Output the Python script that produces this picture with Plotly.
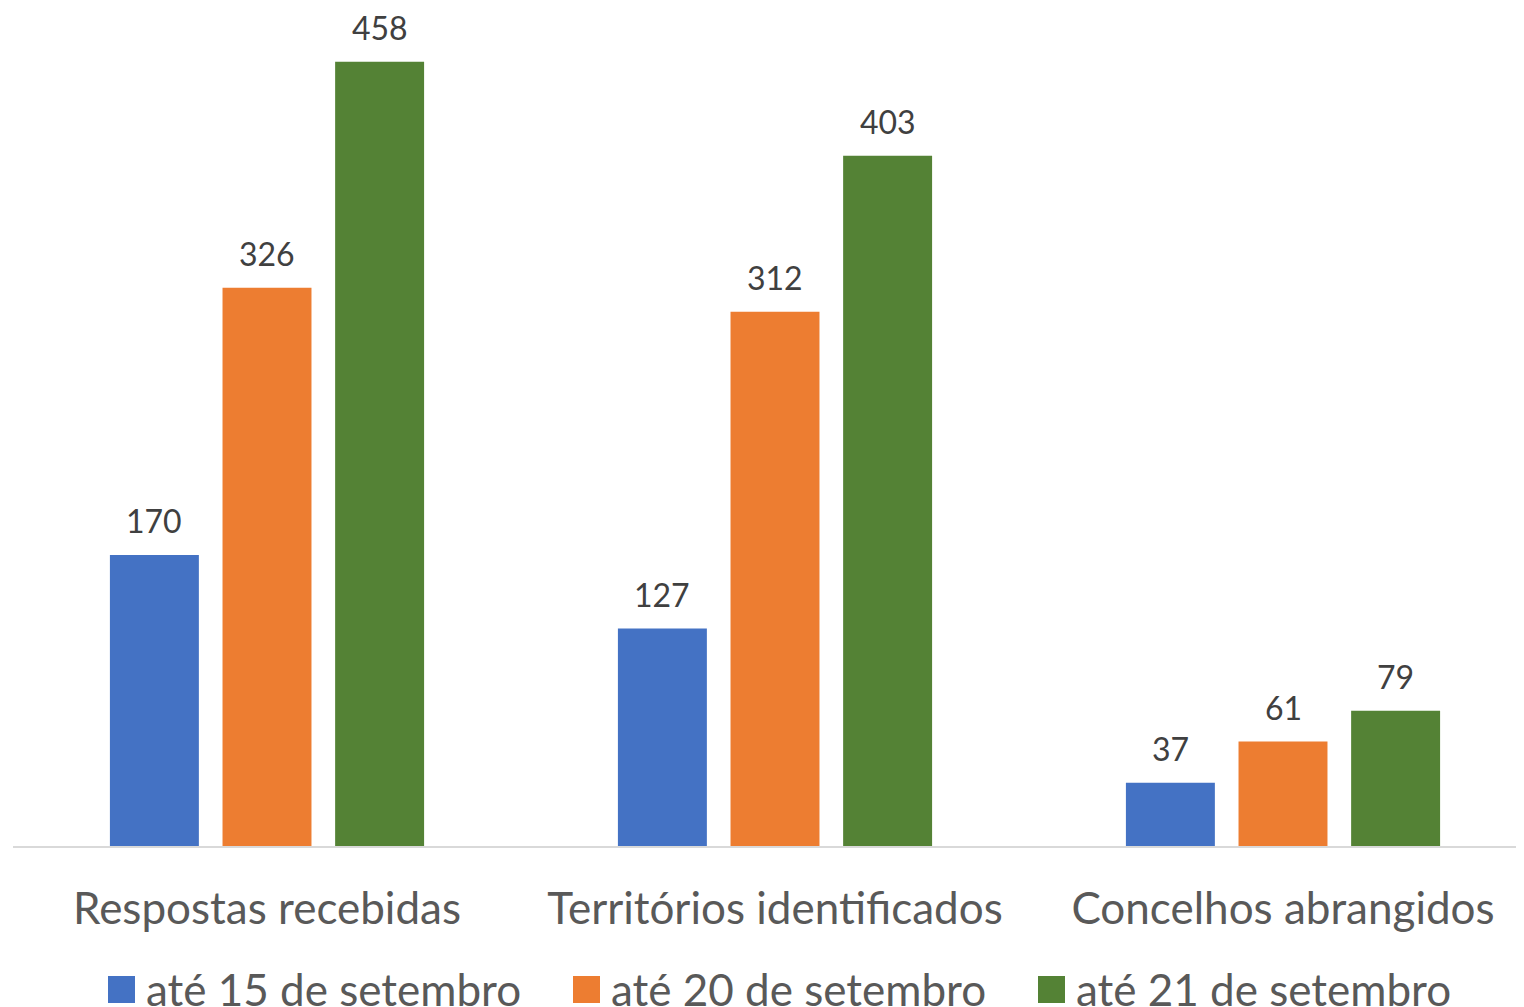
import plotly.graph_objects as go

categories = ["Respostas recebidas", "Territórios identificados", "Concelhos abrangidos"]
series_names = ["até 15 de setembro", "até 20 de setembro", "até 21 de setembro"]
values_15 = [170, 127, 37]
values_20 = [326, 312, 61]
values_21 = [458, 403, 79]
colors = ["#4472C4", "#ED7D31", "#548235"]

W, H = 1524, 1007
OFF = 8  # page body margin
L, R, T = 13 - OFF, 0, 20 - OFF
B = H - (846 - OFF)
FONT = "Lato"
BARGAP, GROUPGAP = 0.335, 0.21

plot_w = W - L - R
plot_h = H - T - B
cat_px = 508
x_range = [-0.5, -0.5 + plot_w / cat_px]
slot_px = cat_px * (1 - BARGAP) / len(series_names)

fig = go.Figure()
all_vals = [values_15, values_20, values_21]
for i, (name, vals, col) in enumerate(zip(series_names, all_vals, colors)):
    fig.add_trace(go.Bar(
        x=categories, y=vals, name=name,
        marker=dict(color=col, line=dict(width=0)),
        showlegend=False,
    ))
    # data labels, lifted above the bar tops like the original
    for c, v in zip(categories, vals):
        fig.add_annotation(x=c, y=v, xref="x", yref="y", text=str(v), showarrow=False,
                           xanchor="center", yanchor="bottom",
                           xshift=(i - 1) * slot_px, yshift=13,
                           font=dict(family=FONT, size=32, color="#404040"))

# custom legend (large squares like the original)
def px_x(px):
    return (px - OFF - L) / plot_w
def px_y(py):
    return (H - B - (py - OFF)) / plot_h

legend_x = [108, 573, 1038]
sq = 27
for lx, name, col in zip(legend_x, series_names, colors):
    fig.add_shape(type="rect", xref="paper", yref="paper",
                  x0=px_x(lx), x1=px_x(lx + sq), y0=px_y(1003), y1=px_y(1003 - sq),
                  fillcolor=col, line=dict(width=0))
    fig.add_annotation(xref="paper", yref="paper", x=px_x(lx + 36), y=px_y(989),
                       xanchor="left", yanchor="middle", text=name, showarrow=False,
                       font=dict(family=FONT, size=44, color="#595959"))

fig.update_layout(
    width=W, height=H,
    margin=dict(l=L, r=R, t=T, b=B, pad=0),
    barmode="group", bargap=BARGAP, bargroupgap=GROUPGAP,
    plot_bgcolor="white", paper_bgcolor="white",
    font=dict(family=FONT, color="#595959"),
)
fig.update_xaxes(range=x_range, showline=True, linecolor="#D9D9D9",
                 linewidth=2, ticks="", showgrid=False,
                 tickfont=dict(family=FONT, size=44, color="#595959"),
                 ticklabelstandoff=23)
fig.update_yaxes(range=[0, plot_h / 1.7125], visible=False, showgrid=False, zeroline=False)

fig.write_html("out.html")
